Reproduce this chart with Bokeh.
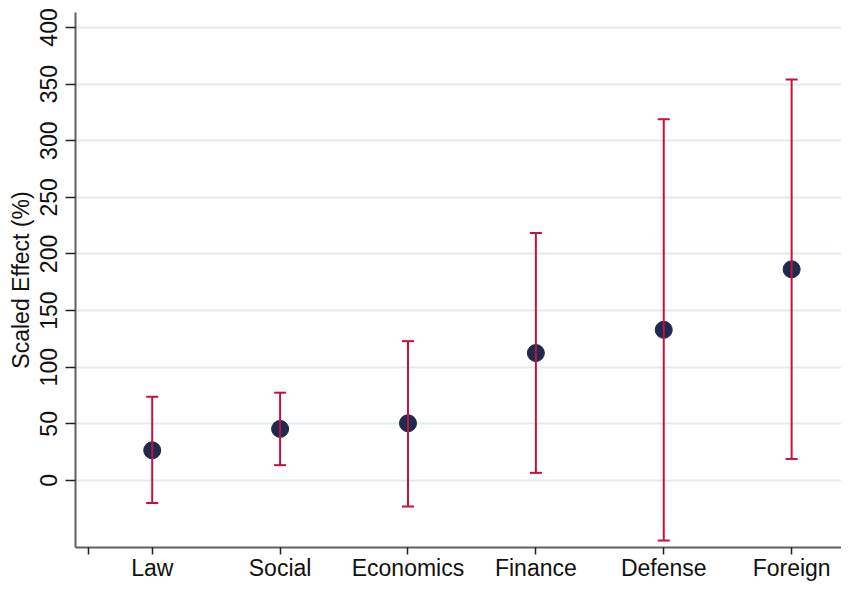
from bokeh.plotting import figure
from bokeh.models import FixedTicker, ColumnDataSource
from bokeh.embed import file_html
from bokeh.resources import INLINE

categories = ["Law", "Social", "Economics", "Finance", "Defense", "Foreign"]
estimate = [26.6, 45.5, 50.5, 112.5, 133.0, 186.4]
lower = [-20.0, 13.5, -23.0, 6.7, -53.0, 19.0]
upper = [74.0, 77.5, 123.0, 218.5, 319.0, 354.0]
y_ticks = [0, 50, 100, 150, 200, 250, 300, 350, 400]

xs = list(range(1, len(categories) + 1))
src = ColumnDataSource(dict(x=xs, est=estimate, lo=lower, hi=upper))

p = figure(width=841, height=583, output_backend="svg", toolbar_location=None,
           x_range=(0.4, 6.39), y_range=(-59.2, 413.2),
           min_border_left=75, min_border_right=0, min_border_top=12, min_border_bottom=0)
p.outline_line_color = None
p.background_fill_color = "white"
p.border_fill_color = "white"

font = "Liberation Sans"
# x axis
p.xaxis.ticker = FixedTicker(ticks=[0.5] + xs + [6.5])
overrides = {0.5: "", 6.5: ""}
for i, c in zip(xs, categories):
    overrides[i] = c
p.xaxis.major_label_overrides = overrides
p.xaxis.minor_tick_line_color = None
p.xaxis.major_tick_out = 7
p.xaxis.major_tick_in = 0
p.xaxis.major_label_standoff = 0
p.xaxis.major_label_text_line_height = 1.0
# y axis
p.yaxis.ticker = FixedTicker(ticks=y_ticks)
p.yaxis.major_label_orientation = "parallel"
p.yaxis.minor_tick_line_color = None
p.yaxis.major_tick_out = 10
p.yaxis.major_tick_in = 0
p.yaxis.major_label_standoff = 8
p.yaxis.axis_label = "Scaled Effect (%)"
p.yaxis.axis_label_standoff = 4
p.yaxis.axis_label_text_font_style = "normal"

for ax in (p.xaxis[0], p.yaxis[0]):
    ax.axis_line_color = "#606060"
    ax.axis_line_width = 2
    ax.major_tick_line_color = "#222222"
    ax.major_tick_line_width = 1.5
    ax.major_label_text_font = font
    ax.major_label_text_font_size = "23px"
    ax.major_label_text_color = "#111111"
    ax.axis_label_text_font = font
    ax.axis_label_text_font_size = "23px"
    ax.axis_label_text_color = "#111111"

p.xgrid.grid_line_color = None
p.ygrid.ticker = FixedTicker(ticks=y_ticks)
p.ygrid.grid_line_color = "#e2ecee"
p.ygrid.grid_line_width = 2

navy = "#1e2a4e"
crimson = "#c8103c"

p.scatter("x", "est", source=src, size=17, color=navy, line_color=navy)
p.segment(x0="x", y0="lo", x1="x", y1="hi", source=src, line_color=crimson, line_width=2)
p.scatter("x", "hi", source=src, marker="dash", size=12, line_color=crimson, line_width=2)
p.scatter("x", "lo", source=src, marker="dash", size=12, line_color=crimson, line_width=2)

open("out.html", "w").write(file_html(p, INLINE))
